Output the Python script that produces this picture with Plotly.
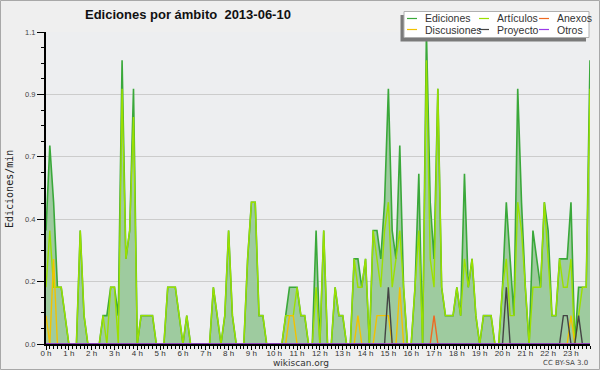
import plotly.graph_objects as go

# ---- data (10-minute slots, edits per minute) ----
minutes = list(range(0, 1440, 10))

ediciones = [
    0.4, 0.7, 0.5, 0.2, 0.2, 0.1, 0, 0, 0, 0.4,
    0.1, 0, 0, 0, 0, 0.1, 0.1, 0.2, 0.2, 0.1,
    1.0, 0.3, 0.4, 0.9, 0, 0.1, 0.1, 0.1, 0.1, 0,
    0, 0, 0.2, 0.2, 0.2, 0.1, 0, 0.1, 0, 0,
    0, 0, 0, 0, 0.2, 0.1, 0, 0.1, 0.4, 0.1,
    0, 0, 0, 0.3, 0.5, 0.5, 0.1, 0.1, 0, 0,
    0, 0, 0, 0.1, 0.2, 0.2, 0.2, 0.1, 0.1, 0,
    0, 0.4, 0, 0.4, 0, 0, 0.2, 0.1, 0.1, 0,
    0, 0.3, 0.3, 0.2, 0.3, 0, 0.4, 0.4, 0.3, 0.5,
    0.9, 0.4, 0.3, 0.7, 0.2, 0, 0, 0.2, 0.6, 0,
    1.1, 0.5, 0.3, 0.9, 0.2, 0.1, 0.1, 0.1, 0.2, 0.1,
    0.6, 0.2, 0.3, 0.1, 0, 0.1, 0.1, 0.1, 0, 0,
    0.2, 0.5, 0.3, 0.1, 0.9, 0.5, 0.2, 0, 0.4, 0.3,
    0.2, 0.5, 0.4, 0.1, 0.1, 0.3, 0.3, 0.3, 0.5, 0,
    0.2, 0.2, 0.2, 1.0,
]

articulos = [
    0.2, 0.4, 0.2, 0.2, 0.2, 0.1, 0, 0, 0, 0.4,
    0.1, 0, 0, 0, 0, 0.1, 0, 0.2, 0.2, 0,
    0.9, 0.3, 0.4, 0.8, 0, 0.1, 0.1, 0.1, 0.1, 0,
    0, 0, 0.2, 0.2, 0.2, 0.1, 0, 0.1, 0, 0,
    0, 0, 0, 0, 0.2, 0.1, 0, 0.1, 0.4, 0.1,
    0, 0, 0, 0.3, 0.5, 0.5, 0.1, 0.1, 0, 0,
    0, 0, 0, 0.1, 0.1, 0.1, 0.2, 0.1, 0.1, 0,
    0, 0.2, 0, 0.4, 0, 0, 0.2, 0.1, 0.1, 0,
    0, 0.3, 0.2, 0.2, 0.3, 0, 0.4, 0.3, 0.2, 0.4,
    0.5, 0.2, 0.3, 0.4, 0.2, 0, 0, 0.2, 0.4, 0,
    1.0, 0.3, 0.2, 0.9, 0.2, 0.1, 0.1, 0.1, 0.2, 0.1,
    0.3, 0.2, 0.3, 0.1, 0, 0.1, 0.1, 0.1, 0, 0,
    0.2, 0.3, 0.1, 0.1, 0.5, 0.4, 0.2, 0, 0.2, 0.2,
    0.2, 0.5, 0.3, 0.1, 0.1, 0.3, 0.2, 0.2, 0.3, 0,
    0.1, 0.2, 0.2, 0.9,
]

anexos = [
    0, 0, 0, 0, 0, 0, 0, 0, 0, 0,
    0, 0, 0, 0, 0, 0, 0, 0, 0, 0,
    0, 0, 0, 0, 0, 0, 0, 0, 0, 0,
    0, 0, 0, 0, 0, 0, 0, 0, 0, 0,
    0, 0, 0, 0, 0, 0, 0, 0, 0, 0,
    0, 0, 0, 0, 0, 0, 0, 0, 0, 0,
    0, 0, 0, 0, 0, 0, 0, 0, 0, 0,
    0, 0, 0, 0, 0, 0, 0, 0, 0, 0,
    0, 0, 0, 0, 0, 0, 0, 0, 0, 0,
    0, 0, 0, 0, 0, 0, 0, 0, 0, 0,
    0, 0, 0.1, 0, 0, 0, 0, 0, 0, 0,
    0, 0, 0, 0, 0, 0, 0, 0, 0, 0,
    0, 0, 0, 0, 0, 0, 0, 0, 0, 0,
    0, 0, 0, 0, 0, 0, 0, 0, 0, 0,
    0, 0, 0, 0,
]

discusiones = [
    0.1, 0, 0.3, 0, 0, 0, 0, 0, 0, 0,
    0, 0, 0, 0, 0, 0, 0, 0, 0, 0,
    0, 0, 0, 0, 0, 0, 0, 0, 0, 0,
    0, 0, 0, 0, 0, 0, 0, 0, 0, 0,
    0, 0, 0, 0, 0, 0, 0, 0, 0, 0,
    0, 0, 0, 0, 0, 0, 0, 0, 0, 0,
    0, 0, 0, 0, 0.1, 0.1, 0, 0, 0, 0,
    0, 0, 0, 0, 0, 0, 0, 0, 0, 0,
    0, 0, 0.1, 0, 0, 0, 0, 0.1, 0.1, 0.1,
    0.1, 0, 0, 0.2, 0, 0, 0, 0, 0, 0,
    0, 0, 0, 0, 0, 0, 0, 0, 0, 0,
    0, 0, 0, 0, 0, 0, 0, 0, 0, 0,
    0, 0, 0, 0, 0, 0, 0, 0, 0, 0,
    0, 0, 0, 0, 0, 0, 0, 0, 0.1, 0,
    0, 0, 0, 0,
]

proyecto = [
    0, 0, 0, 0, 0, 0, 0, 0, 0, 0,
    0, 0, 0, 0, 0, 0, 0, 0, 0, 0,
    0, 0, 0, 0, 0, 0, 0, 0, 0, 0,
    0, 0, 0, 0, 0, 0, 0, 0, 0, 0,
    0, 0, 0, 0, 0, 0, 0, 0, 0, 0,
    0, 0, 0, 0, 0, 0, 0, 0, 0, 0,
    0, 0, 0, 0, 0, 0, 0, 0, 0, 0,
    0, 0, 0, 0, 0, 0, 0, 0, 0, 0,
    0, 0, 0, 0, 0, 0, 0, 0, 0, 0,
    0.2, 0, 0, 0, 0, 0, 0, 0, 0, 0,
    0, 0, 0, 0, 0, 0, 0, 0, 0, 0,
    0, 0, 0, 0, 0, 0, 0, 0, 0, 0,
    0, 0.2, 0, 0, 0, 0, 0, 0, 0, 0,
    0, 0, 0, 0, 0, 0, 0.1, 0.1, 0, 0,
    0.1, 0, 0, 0,
]

otros = [
    0, 0, 0, 0, 0, 0, 0, 0, 0, 0,
    0, 0, 0, 0, 0, 0, 0, 0, 0, 0,
    0, 0, 0, 0, 0, 0, 0, 0, 0, 0,
    0, 0, 0, 0, 0, 0, 0, 0, 0, 0,
    0, 0, 0, 0, 0, 0, 0, 0, 0, 0,
    0, 0, 0, 0, 0, 0, 0, 0, 0, 0,
    0, 0, 0, 0, 0, 0, 0, 0, 0, 0,
    0, 0, 0, 0, 0, 0, 0, 0, 0, 0,
    0, 0, 0, 0, 0, 0, 0, 0, 0, 0,
    0, 0, 0, 0, 0, 0, 0, 0, 0, 0,
    0, 0, 0, 0, 0, 0, 0, 0, 0, 0,
    0, 0, 0, 0, 0, 0, 0, 0, 0, 0,
    0, 0, 0, 0, 0, 0, 0, 0, 0, 0,
    0, 0, 0, 0, 0, 0, 0, 0, 0, 0,
    0, 0, 0, 0,
]

hour_ticks = [h * 60 for h in range(24)]
hour_labels = [f"{h} h" for h in range(24)]
y_ticks = [0, 0.22, 0.44, 0.66, 0.88, 1.1]
y_labels = ["0.0", "0.2", "0.4", "0.7", "0.9", "1.1"]

series = [
    ("Ediciones", ediciones, "#3aa83a"),
    ("Artículos", articulos, "#9be000"),
    ("Anexos", anexos, "#ee6a22"),
    ("Discusiones", discusiones, "#f2c200"),
    ("Proyecto", proyecto, "#444444"),
    ("Otros", otros, "#9a3ae8"),
]
colors = {name: c for name, _, c in series}

# ---- figure ----
fig = go.Figure()
fig.add_trace(go.Scatter(
    x=minutes, y=ediciones, name="Ediciones", mode="lines",
    line=dict(color=colors["Ediciones"], width=1.6),
    fill="tozeroy", fillcolor="#9ecb9f",
))
for name, vals in [("Artículos", articulos), ("Discusiones", discusiones),
                   ("Anexos", anexos), ("Proyecto", proyecto), ("Otros", otros)]:
    fig.add_trace(go.Scatter(
        x=minutes, y=vals, name=name, mode="lines",
        line=dict(color=colors[name], width=1.4),
    ))

L, R, T, B = 46, 10, 32, 26
W, H = 600, 370
PW, PH = W - L - R, H - T - B


def px(xp):
    return (xp - L) / PW


def py(yp):
    return (H - B - yp) / PH


shapes = []
annotations = []

# outer frame
shapes.append(dict(type="rect", xref="paper", yref="paper",
                   x0=px(0.5), x1=px(599.5), y0=py(369.5), y1=py(0.5),
                   line=dict(color="#a8a8a8", width=1), layer="below"))

# legend box with shadow
shapes.append(dict(type="rect", xref="paper", yref="paper",
                   x0=px(400.5), x1=px(586), y0=py(41.5), y1=py(15),
                   line=dict(width=0), fillcolor="#7a7a7a"))
shapes.append(dict(type="rect", xref="paper", yref="paper",
                   x0=px(404), x1=px(589), y0=py(37.5), y1=py(11.5),
                   line=dict(color="#b0b0b0", width=1), fillcolor="#ffffff"))

legend_layout = [
    ("Ediciones", 407, 18.5), ("Artículos", 479, 18.5), ("Anexos", 539, 18.5),
    ("Discusiones", 407, 29.5), ("Proyecto", 479, 29.5), ("Otros", 539, 29.5),
]
for name, lx, ly in legend_layout:
    shapes.append(dict(type="line", xref="paper", yref="paper",
                       x0=px(lx), x1=px(lx + 10), y0=py(ly), y1=py(ly),
                       line=dict(color=colors[name], width=1.2)))
    annotations.append(dict(text=name, xref="paper", yref="paper",
                            x=px(lx + 16), y=py(ly), xanchor="left", yanchor="middle",
                            showarrow=False,
                            font=dict(family="Liberation Sans", size=10.5, color="#333333")))

annotations.append(dict(text="Ediciones/min", xref="paper", yref="paper",
                        x=px(9), y=py(189), textangle=-90, showarrow=False,
                        xanchor="center", yanchor="middle",
                        font=dict(family="DejaVu Sans Mono", size=10, color="#222222")))
annotations.append(dict(text="wikiscan.org", xref="paper", yref="paper",
                        x=px(301), y=py(362.5), showarrow=False,
                        xanchor="center", yanchor="middle",
                        font=dict(family="DejaVu Sans", size=9, color="#333333")))
annotations.append(dict(text="CC BY-SA 3.0", xref="paper", yref="paper",
                        x=px(590), y=py(363), showarrow=False,
                        xanchor="right", yanchor="middle",
                        font=dict(family="DejaVu Sans", size=7, color="#444444")))

fig.update_layout(
    width=W, height=H,
    margin=dict(l=L, r=R, t=T, b=B, pad=0),
    paper_bgcolor="#efefef",
    plot_bgcolor="#edeef0",
    showlegend=False,
    title=dict(text="<b>Ediciones por ámbito \u00a02013-06-10</b>",
               xref="container", yref="container",
               x=85 / W, xanchor="left", y=1 - 14 / H, yanchor="middle",
               font=dict(family="Liberation Sans", size=13, color="#111111")),
    shapes=shapes,
    annotations=annotations,
    xaxis=dict(
        range=[0, 1430], showgrid=False, zeroline=False,
        showline=True, linecolor="#000000", linewidth=2,
        tickmode="array", tickvals=hour_ticks, ticktext=hour_labels,
        ticks="outside", ticklen=4, tickcolor="#000000", tickwidth=1,
        ticklabelstandoff=-4,
        tickfont=dict(family="Liberation Sans", size=8, color="#333333"),
        minor=dict(tickmode="linear", tick0=0, dtick=10, ticks="outside",
                   ticklen=3, tickcolor="#000000", tickwidth=1, showgrid=False),
    ),
    yaxis=dict(
        range=[0, 1.1], zeroline=False,
        showgrid=True, gridcolor="#cccccc", gridwidth=1,
        showline=True, linecolor="#000000", linewidth=2,
        tickmode="array", tickvals=y_ticks, ticktext=y_labels,
        ticks="outside", ticklen=7, tickcolor="#000000", tickwidth=1,
        tickfont=dict(family="Liberation Sans", size=7.5, color="#444444"),
        minor=dict(tickmode="linear", tick0=0, dtick=0.055, ticks="outside",
                   ticklen=3, tickcolor="#000000", tickwidth=1, showgrid=False),
    ),
)

fig.write_html("out.html",
               config={"displayModeBar": False},
               post_script="document.body.style.margin='0px';"
                           "document.body.style.overflow='hidden';")
